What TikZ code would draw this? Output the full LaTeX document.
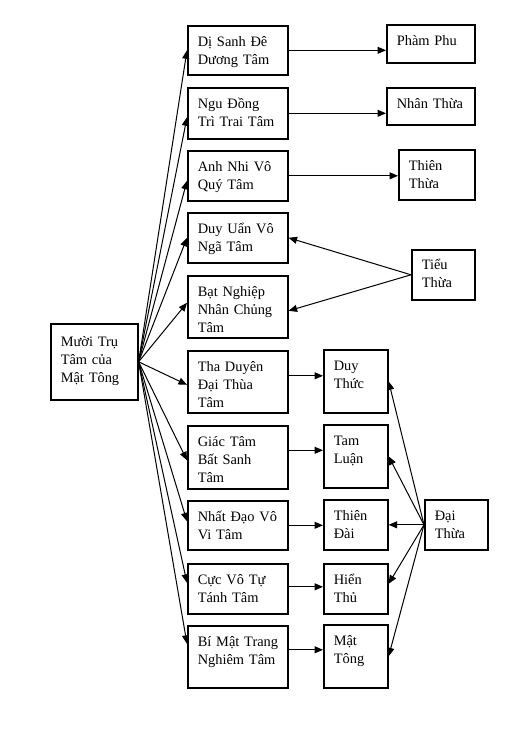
\documentclass[tikz,border=0pt]{standalone}
\usepackage{fontspec}
\setmainfont{Liberation Serif}
\usetikzlibrary{arrows.meta}

\begin{document}
\begin{tikzpicture}[x=1pt, y=-1pt, font=\fontsize{14.4}{18}\selectfont,
  box/.style={draw, line width=1.6pt, anchor=north west, align=left, inner xsep=10pt, inner ysep=0pt, text height=21pt},
  arr/.style={-{Triangle[length=8.5pt, width=7pt]}, line width=1pt}]
  \useasboundingbox (0,0) rectangle (517,734);
  \node[box, text width=67pt, text height=23pt, text depth=53pt] (mtt) at (50,323) {Mười Trụ\\Tâm của\\Mật Tông};
  \node[box, text width=80pt, text depth=28pt] (dsdd) at (187,25) {Dị Sanh Đê\\Dương Tâm};
  \node[box, text width=80pt, text depth=30pt] (ndtt) at (187,87) {Ngu Đồng\\Trì Trai Tâm};
  \node[box, text width=80pt, text depth=29pt] (anvq) at (187,150) {Anh Nhi Vô\\Quý Tâm};
  \node[box, text width=80pt, text depth=29pt] (duvn) at (187,212) {Duy Uẩn Vô\\Ngã Tâm};
  \node[box, text width=80pt, text depth=41pt] (bncn) at (187,275) {Bạt Nghiệp\\Nhân Chủng\\Tâm};
  \node[box, text width=80pt, text depth=41pt] (tddt) at (187,350) {Tha Duyên\\Đại Thùa\\Tâm};
  \node[box, text width=80pt, text depth=42pt] (gtbs) at (187,425) {Giác Tâm\\Bất Sanh\\Tâm};
  \node[box, text width=80pt, text depth=28pt] (ndvv) at (187,500) {Nhất Đạo Vô\\Vi Tâm};
  \node[box, text width=80pt, text depth=29pt] (cvtt) at (187,563) {Cực Vô Tự\\Tánh Tâm};
  \node[box, text width=80pt, text depth=41pt] (bmtn) at (187,625) {Bí~Mật~Trang\\Nghiêm Tâm};
  \node[box, text width=68pt, text depth=17pt] (pp) at (386,24) {Phàm Phu};
  \node[box, text width=68pt, text depth=16pt] (nt) at (386,87) {Nhân Thừa};
  \node[box, text width=56pt, text depth=29pt] (tt) at (398,149) {Thiên\\Thừa};
  \node[box, text width=43pt, text height=20pt, text depth=30pt] (tieu) at (411,249) {Tiểu\\Thừa};
  \node[box, text width=44pt, text depth=42pt] (dt) at (323,349) {Duy\\Thức};
  \node[box, text width=44pt, text depth=42pt] (tl) at (323,424) {Tam\\Luận};
  \node[box, text width=44pt, text depth=29pt] (tdai) at (323,499) {Thiên\\Đài};
  \node[box, text width=44pt, text depth=29pt] (ht) at (323,563) {Hiển\\Thủ};
  \node[box, text width=44pt, text depth=42pt] (mt) at (323,624) {Mật\\Tông};
  \node[box, text width=43pt, text depth=29pt] (dai) at (424,499) {Đại\\Thừa};
  \draw[arr] (mtt.east) -- (dsdd.west);
  \draw[arr] (mtt.east) -- ([yshift=-4pt]ndtt.west);
  \draw[arr] (mtt.east) -- ([yshift=-5pt]anvq.west);
  \draw[arr] (mtt.east) -- (duvn.west);
  \draw[arr] (mtt.east) -- ([yshift=4pt]bncn.west);
  \draw[arr] (mtt.east) -- ([yshift=-3pt]tddt.west);
  \draw[arr] (mtt.east) -- ([yshift=-3pt]gtbs.west);
  \draw[arr] (mtt.east) -- ([yshift=4pt]ndvv.west);
  \draw[arr] (mtt.east) -- ([yshift=6pt]cvtt.west);
  \draw[arr] (mtt.east) -- ([yshift=13pt]bmtn.west);
  \draw[arr] (dsdd.east) -- (dsdd.east -| pp.west);
  \draw[arr] (ndtt.east) -- (ndtt.east -| nt.west);
  \draw[arr] (anvq.east) -- (anvq.east -| tt.west);
  \draw[arr] (tieu.west) -- (duvn.east);
  \draw[arr] (tieu.west) -- ([yshift=-4pt]bncn.east);
  \draw[arr] ([yshift=6pt]tddt.east) -- ([yshift=6pt]tddt.east -| dt.west);
  \draw[arr] ([yshift=7pt]gtbs.east) -- ([yshift=7pt]gtbs.east -| tl.west);
  \draw[arr] (ndvv.east) -- (ndvv.east -| tdai.west);
  \draw[arr] ([yshift=2pt]cvtt.east) -- ([yshift=2pt]cvtt.east -| ht.west);
  \draw[arr] ([yshift=7pt]bmtn.east) -- ([yshift=7pt]bmtn.east -| mt.west);
  \draw[arr] (dai.west) -- (dt.east);
  \draw[arr] (dai.west) -- (tl.east);
  \draw[arr] (dai.west) -- (tdai.east);
  \draw[arr] (dai.west) -- ([yshift=5pt]ht.east);
  \draw[arr] (dai.west) -- (mt.east);
\end{tikzpicture}
\end{document}
